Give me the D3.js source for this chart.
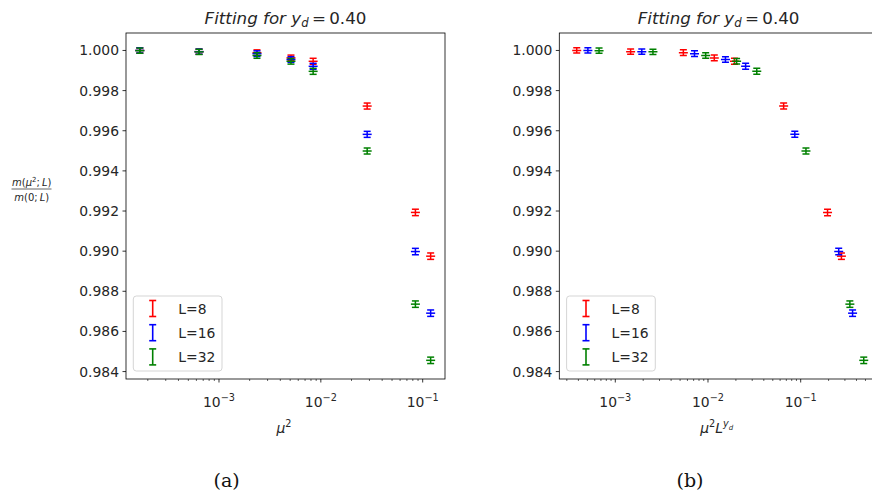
<!DOCTYPE html>
<html>
<head>
<meta charset="utf-8">
<script src="https://cdn.jsdelivr.net/npm/d3@7/dist/d3.min.js"></script>
<style>
  html, body { margin: 0; padding: 0; background: #fff; }
  svg { display: block; font-family: "DejaVu Sans", sans-serif; }
</style>
</head>
<body>
<svg id="fig" width="872" height="493"></svg>
<script>
// Critical exponent used for the rescaled axis
const yd = 0.40;

// mu^2 values probed
const mu2 = [1.67e-4, 6.37e-4, 2.36e-3, 5.09e-3, 8.4e-3, 0.0285, 0.0848, 0.1197];

// Lattice sizes and plotting colours
const sizes = [8, 16, 32];
const colors = ["#ff0000", "#0000ff", "#008000"];

// m(mu^2; L) / m(0; L) for each L
const ratioL8  = [1.00000, 0.99994, 0.99989, 0.99963, 0.99946, 0.99723, 0.99193, 0.98975];
const ratioL16 = [1.00000, 0.99994, 0.99984, 0.99955, 0.99921, 0.99582, 0.98998, 0.98691];
const ratioL32 = [0.99999, 0.99993, 0.99975, 0.99946, 0.99896, 0.99499, 0.98736, 0.98456];

// Statistical errors
const errL8  = [0.00013, 0.00013, 0.00014, 0.00014, 0.00015, 0.00015, 0.00016, 0.00016];
const errL16 = [0.00013, 0.00013, 0.00014, 0.00014, 0.00015, 0.00015, 0.00016, 0.00016];
const errL32 = [0.00013, 0.00013, 0.00014, 0.00014, 0.00015, 0.00015, 0.00016, 0.00016];

// Axis ticks
const yTicks = [0.984, 0.986, 0.988, 0.990, 0.992, 0.994, 0.996, 0.998, 1.000];
const xMajorExp = [-4, -3, -2, -1, 0];

const ratios = [ratioL8, ratioL16, ratioL32];
const errs = [errL8, errL16, errL32];

const svg = d3.select("#fig");
svg.append("rect").attr("width", 872).attr("height", 493).attr("fill", "#fff");

const TXT = "#262626";
const plotTop = 33, plotBottom = 379;

const yScale = d3.scaleLinear().domain([0.98363, 1.00087]).range([plotBottom, plotTop]);

function drawPanel(opts) {
  const { left, right, xDomain, xOf, xLabel, caption, captionX, legendDx } = opts;
  const g = svg.append("g");
  const x = d3.scaleLog().domain(xDomain).range([left, right]);

  // clip for points
  const cid = "clip" + Math.round(left);
  svg.append("clipPath").attr("id", cid).append("rect")
    .attr("x", left).attr("y", plotTop).attr("width", right - left).attr("height", plotBottom - plotTop);

  // y ticks
  const yAx = g.append("g");
  yTicks.forEach(t => {
    const yy = yScale(t);
    yAx.append("line").attr("x1", left - 3.5).attr("x2", left).attr("y1", yy).attr("y2", yy)
      .attr("stroke", "#000").attr("stroke-width", 0.8);
    yAx.append("text").attr("x", left - 7).attr("y", yy).attr("dy", "0.36em")
      .attr("text-anchor", "end").attr("font-size", 13.9).attr("fill", TXT)
      .text(d3.format(".3f")(t));
  });

  // x ticks (log, major + minor)
  const [d0, d1] = x.domain();
  xMajorExp.forEach(e => {
    const v = Math.pow(10, e);
    if (v >= d0 && v <= d1) {
      const xx = x(v);
      g.append("line").attr("x1", xx).attr("x2", xx).attr("y1", plotBottom).attr("y2", plotBottom + 3.5)
        .attr("stroke", "#000").attr("stroke-width", 0.8);
      const t = g.append("text").attr("x", xx).attr("y", 407).attr("text-anchor", "middle")
        .attr("font-size", 13.9).attr("fill", TXT);
      t.append("tspan").text("10");
      t.append("tspan").attr("dy", -6).attr("font-size", 9.7).text("\u2212" + Math.abs(e));
    }
    for (let k = 2; k <= 9; k++) {
      const m = k * v;
      if (m >= d0 && m <= d1) {
        const xx = x(m);
        g.append("line").attr("x1", xx).attr("x2", xx).attr("y1", plotBottom).attr("y2", plotBottom + 2)
          .attr("stroke", "#000").attr("stroke-width", 0.6);
      }
    }
  });

  // error bar points
  const pts = g.append("g").attr("clip-path", `url(#${cid})`);
  sizes.forEach((L, si) => {
    const col = colors[si];
    mu2.forEach((m, i) => {
      const xx = x(xOf(m, L));
      const v = ratios[si][i], e = errs[si][i];
      const y0 = yScale(v - e), y1 = yScale(v + e), yc = yScale(v);
      const pg = pts.append("g").attr("stroke", col).attr("stroke-width", 1.5);
      pg.append("line").attr("x1", xx).attr("x2", xx).attr("y1", y0).attr("y2", y1);
      pg.append("line").attr("x1", xx - 3.5).attr("x2", xx + 3.5).attr("y1", y0).attr("y2", y0);
      pg.append("line").attr("x1", xx - 3.5).attr("x2", xx + 3.5).attr("y1", y1).attr("y2", y1);
      pg.append("line").attr("x1", xx - 4.5).attr("x2", xx + 4.5).attr("y1", yc).attr("y2", yc);
    });
  });

  // frame
  g.append("rect").attr("x", left).attr("y", plotTop).attr("width", right - left).attr("height", plotBottom - plotTop)
    .attr("fill", "none").attr("stroke", "#000").attr("stroke-width", 0.8);

  // legend
  const lx = left + legendDx, ly = 296;
  const lg = g.append("g");
  lg.append("rect").attr("x", lx).attr("y", ly).attr("width", 88.7).attr("height", 75).attr("rx", 3)
    .attr("fill", "#fff").attr("fill-opacity", 0.8).attr("stroke", "#d0d0d0").attr("stroke-width", 0.9);
  sizes.forEach((L, si) => {
    const cy = 308.5 + si * 24.2;
    const sx = lx + 19.4;
    const sg = lg.append("g").attr("stroke", colors[si]).attr("stroke-width", 1.6);
    sg.append("line").attr("x1", sx).attr("x2", sx).attr("y1", cy - 8).attr("y2", cy + 8);
    sg.append("line").attr("x1", sx - 3.5).attr("x2", sx + 3.5).attr("y1", cy - 8).attr("y2", cy - 8);
    sg.append("line").attr("x1", sx - 3.5).attr("x2", sx + 3.5).attr("y1", cy + 8).attr("y2", cy + 8);
    lg.append("text").attr("x", lx + 45).attr("y", cy).attr("dy", "0.36em")
      .attr("font-size", 13.9).attr("fill", TXT).text("L=" + L);
  });

  // title
  const cx = opts.titleX;
  const tt = svg.append("text").attr("x", cx).attr("y", 24).attr("text-anchor", "middle")
    .attr("font-size", 16.7).attr("fill", TXT);
  tt.append("tspan").attr("font-style", "italic").text("Fitting for y");
  tt.append("tspan").attr("font-style", "italic").attr("font-size", 11.7).attr("dy", 3).text("d");
  tt.append("tspan").attr("dy", -3).text("\u2009=\u20090.40");

  // x label
  xLabel(svg);

  // caption
  svg.append("text").attr("x", captionX).attr("y", 487).attr("text-anchor", "middle")
    .attr("font-family", "'DejaVu Serif', serif").attr("font-size", 19).attr("fill", "#111")
    .text(caption);
}

drawPanel({
  left: 126, right: 445,
  xDomain: [Math.pow(10, -3.913), Math.pow(10, -0.781)],
  xOf: (m, L) => m,
  titleX: 285.5,
  legendDx: 7.3,
  caption: "(a)", captionX: 226.7,
  xLabel: s => {
    const t = s.append("text").attr("x", 284).attr("y", 433).attr("text-anchor", "middle")
      .attr("font-size", 13.9).attr("fill", TXT);
    t.append("tspan").attr("font-style", "italic").text("\u03bc");
    t.append("tspan").attr("dy", -6).attr("font-size", 9.7).text("2");
  }
});

drawPanel({
  left: 559.3, right: 878,
  xDomain: [Math.pow(10, -3.604), Math.pow(10, -0.166)],
  xOf: (m, L) => m * Math.pow(L, yd),
  titleX: 718.6,
  legendDx: 7.3,
  caption: "(b)", captionX: 690,
  xLabel: s => {
    const t = s.append("text").attr("x", 716.7).attr("y", 433).attr("text-anchor", "middle")
      .attr("font-size", 13.9).attr("fill", TXT);
    t.append("tspan").attr("font-style", "italic").text("\u03bc");
    t.append("tspan").attr("dy", -6).attr("font-size", 9.7).text("2");
    t.append("tspan").attr("dy", 6).attr("font-style", "italic").text("L");
    t.append("tspan").attr("dy", -6).attr("font-style", "italic").attr("font-size", 9.7).text("y");
    t.append("tspan").attr("dy", 2.5).attr("font-style", "italic").attr("font-size", 7).text("d");
  }
});

// shared y label as a fraction
const yl = svg.append("g").attr("fill", TXT).attr("font-size", 10);
const num = yl.append("text").attr("x", 31.7).attr("y", 185.5).attr("text-anchor", "middle");
num.append("tspan").attr("font-style", "italic").text("m");
num.append("tspan").text("(");
num.append("tspan").attr("font-style", "italic").text("\u03bc");
num.append("tspan").attr("dy", -3.5).attr("font-size", 7).text("2");
num.append("tspan").attr("dy", 3.5).text(";\u2009");
num.append("tspan").attr("font-style", "italic").text("L");
num.append("tspan").text(")");
yl.append("line").attr("x1", 11.5).attr("x2", 51.5).attr("y1", 189).attr("y2", 189)
  .attr("stroke", TXT).attr("stroke-width", 0.7);
const den = yl.append("text").attr("x", 31.7).attr("y", 200.5).attr("text-anchor", "middle");
den.append("tspan").attr("font-style", "italic").text("m");
den.append("tspan").text("(0;\u2009");
den.append("tspan").attr("font-style", "italic").text("L");
den.append("tspan").text(")");
</script>
</body>
</html>
